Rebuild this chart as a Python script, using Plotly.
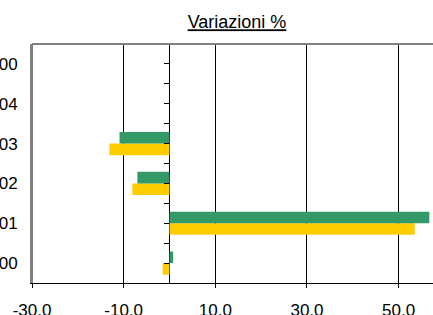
import plotly.graph_objects as go

# Data (bottom to top)
categories = ["2000", "2001", "2002", "2003", "2004", "2000"]
green_values = [0.8, 56.7, -7.0, -10.9, None, None]
yellow_values = [-1.5, 53.5, -8.1, -13.1, None, None]
x_ticks = [-30, -10, 10, 30, 50]
x_tick_labels = ["-30.0", "-10.0", "10.0", "30.0", "50.0"]

ypos = list(range(len(categories)))
font_family = "Arial, Liberation Sans, sans-serif"

fig = go.Figure()
fig.add_trace(go.Bar(y=ypos, x=yellow_values, orientation="h",
                     marker=dict(color="#FFCC00", line=dict(width=0)),
                     showlegend=False, hoverinfo="x"))
fig.add_trace(go.Bar(y=ypos, x=green_values, orientation="h",
                     marker=dict(color="#339966", line=dict(width=0)),
                     showlegend=False, hoverinfo="x"))
# helper trace so the zero-crossing tick axis is drawn
fig.add_trace(go.Scatter(x=[0], y=[0], yaxis="y2", mode="markers",
                         marker=dict(opacity=0), showlegend=False, hoverinfo="skip"))

xmin, xmax = -30, 57.5
zero_pos = (0 - xmin) / (xmax - xmin)

W, H = 433, 315
fig.update_layout(
    width=W, height=H,
    margin=dict(l=32, r=0, t=44, b=32, autoexpand=False),
    paper_bgcolor="white", plot_bgcolor="white",
    barmode="group", bargap=0.42, bargroupgap=0,
    font=dict(family=font_family, size=17, color="black"),
    title=dict(text="<u>Variazioni %</u>", x=237/W, xanchor="center",
               y=1 - 22/H, yanchor="middle",
               font=dict(family=font_family, size=18, color="black")),
    xaxis=dict(range=[xmin, xmax], tickvals=x_ticks, ticktext=x_tick_labels,
               showgrid=True, gridcolor="#000000", gridwidth=1,
               zeroline=True, zerolinecolor="#000000", zerolinewidth=1,
               showline=True, linecolor="#000000", linewidth=1,
               ticks="outside", ticklen=4, tickcolor="#000000",
               ticklabelstandoff=8, fixedrange=True, automargin=False),
    yaxis=dict(range=[-0.5, 5.5], tickvals=ypos, ticktext=categories,
               showgrid=False, zeroline=False,
               showline=True, linecolor="#808080", linewidth=2,
               ticks="", ticklabelstandoff=9, fixedrange=True, automargin=False),
    yaxis2=dict(range=[-0.5, 5.5], overlaying="y", anchor="free",
                position=zero_pos, side="left",
                tickvals=[v / 2 for v in range(-1, 12)],
                showticklabels=False, showgrid=False, zeroline=False,
                showline=False, ticks="outside", ticklen=5,
                tickcolor="#000000", fixedrange=True, automargin=False),
    shapes=[dict(type="line", xref="paper", yref="paper", x0=0, x1=1, y0=1, y1=1,
                 line=dict(color="#808080", width=2)),
            dict(type="line", xref="paper", yref="paper", x0=0, x1=0, y0=0, y1=1,
                 line=dict(color="#808080", width=2))],
)

fig.write_html("out.html", config={"displayModeBar": False, "staticPlot": True},
               post_script="document.body.style.margin='0';document.body.style.overflow='hidden';")
